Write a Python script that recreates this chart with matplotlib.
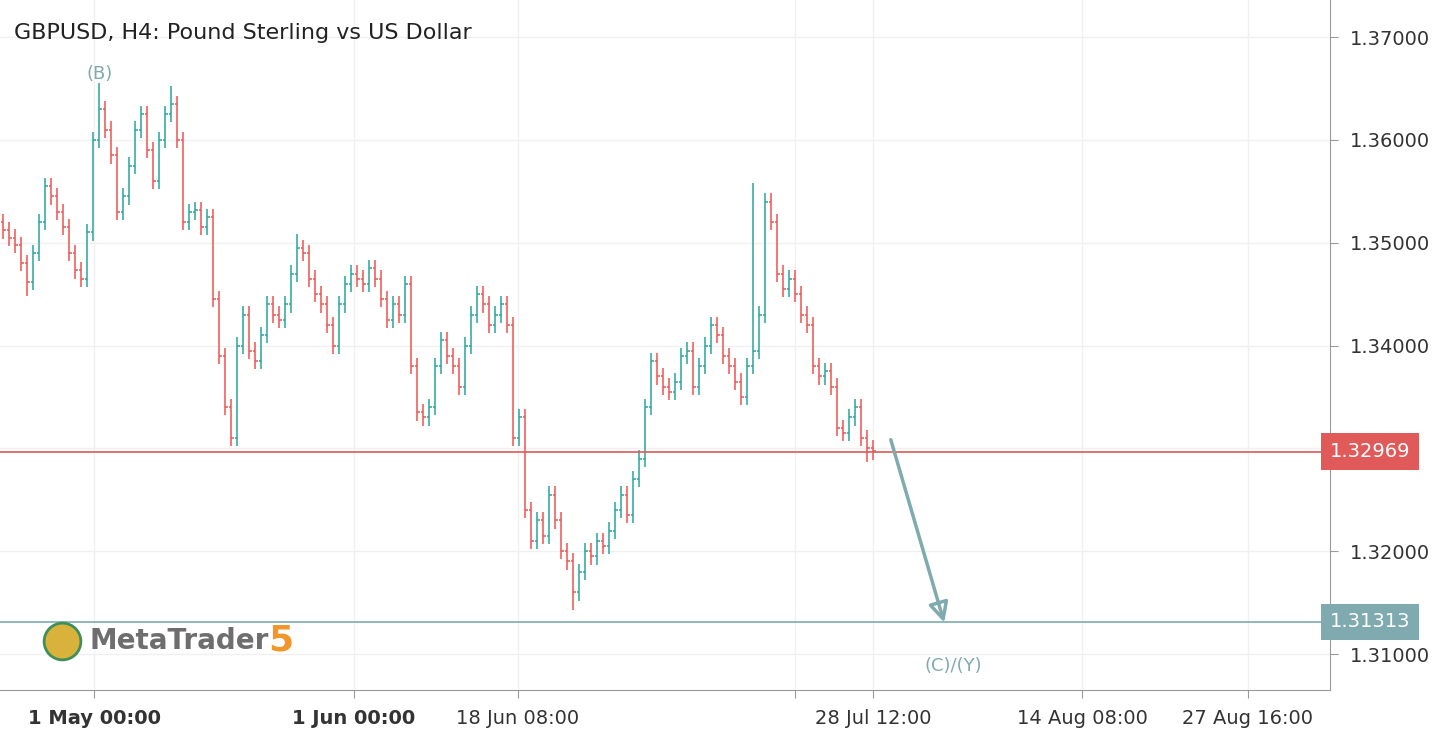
import matplotlib
matplotlib.use('agg')
import matplotlib.pyplot as plt
import numpy as np

# H4 closes (one bar every 6 px of chart width)
closes = [1.3512, 1.3505, 1.3498, 1.3480, 1.3462, 1.3490, 1.3520, 1.3555, 1.3545, 1.3530,
          1.3515, 1.3490, 1.3473, 1.3465, 1.3510, 1.3600, 1.3630, 1.3610, 1.3585, 1.3530,
          1.3545, 1.3575, 1.3610, 1.3625, 1.3590, 1.3560, 1.3600, 1.3625, 1.3635, 1.3600,
          1.3520, 1.3530, 1.3532, 1.3515, 1.3525, 1.3445, 1.3390, 1.3340, 1.3310, 1.3400,
          1.3430, 1.3395, 1.3385, 1.3410, 1.3440, 1.3430, 1.3425, 1.3440, 1.3470, 1.3495,
          1.3490, 1.3465, 1.3450, 1.3440, 1.3420, 1.3400, 1.3440, 1.3460, 1.3470, 1.3465,
          1.3460, 1.3475, 1.3465, 1.3445, 1.3425, 1.3440, 1.3430, 1.3460, 1.3380, 1.3335,
          1.3330, 1.3340, 1.3380, 1.3405, 1.3390, 1.3380, 1.3360, 1.3400, 1.3430, 1.3450,
          1.3440, 1.3420, 1.3430, 1.3440, 1.3420, 1.3310, 1.3330, 1.3240, 1.3210, 1.3230,
          1.3215, 1.3255, 1.3230, 1.3200, 1.3190, 1.3160, 1.3180, 1.3200, 1.3195, 1.3210,
          1.3205, 1.3220, 1.3240, 1.3255, 1.3235, 1.3270, 1.3290, 1.3340, 1.3385, 1.3370,
          1.3360, 1.3355, 1.3365, 1.3390, 1.3395, 1.3360, 1.3380, 1.3400, 1.3420, 1.3410,
          1.3390, 1.3380, 1.3365, 1.3350, 1.3380, 1.3395, 1.3430, 1.3540, 1.3520, 1.3470,
          1.3455, 1.3465, 1.3450, 1.3430, 1.3420, 1.3380, 1.3370, 1.3375, 1.3360, 1.3320,
          1.3315, 1.3330, 1.3340, 1.3310, 1.3300, 1.3297]
first_open = 1.3520
extreme_highs = {16: 1.3655, 28: 1.3652, 49: 1.3508, 125: 1.3558}
extreme_lows = {4: 1.3448, 38: 1.3302, 95: 1.3143, 144: 1.3287}

price_now = 1.32969
target = 1.31313
yticks = [1.31, 1.32, 1.34, 1.35, 1.36, 1.37]
xtick_pos = [94, 354, 518, 795, 873, 1082, 1248]
xtick_lab = ['1 May 00:00', '1 Jun 00:00', '18 Jun 08:00', '', '28 Jul 12:00',
             '14 Aug 08:00', '27 Aug 16:00']

up = '#26a69a'
down = '#ef5350'
teal = '#7fabb0'

fig = plt.figure(figsize=(14.42, 7.4), dpi=100)
ax = fig.add_axes([0, 50 / 740, 1330 / 1442, 690 / 740])

opens = [first_open] + closes[:-1]
for i, (o, c) in enumerate(zip(opens, closes)):
    x = 3 + 6 * i
    hi = extreme_highs.get(i, max(o, c) + 0.0008)
    lo = extreme_lows.get(i, min(o, c) - 0.0008)
    col = up if c >= o else down
    ax.vlines(x, lo, hi, color=col, lw=1.1)
    ax.hlines(o, x - 2.5, x, color=col, lw=1.1)
    ax.hlines(c, x, x + 2.5, color=col, lw=1.1)

ax.axhline(price_now, color='#e05a5a', lw=1.2)
ax.axhline(target, color=teal, lw=1.2)
ax.annotate('', xy=(945, 1.3128), xytext=(890, 1.3311),
            arrowprops=dict(arrowstyle='-|>', color=teal, lw=2.5, mutation_scale=30,
                            fill=False))
ax.text(100, 1.3664, '(B)', color=teal, fontsize=13, ha='center', va='center')
ax.text(953, 1.3088, '(C)/(Y)', color=teal, fontsize=13, ha='center', va='center')
ax.text(14, 1.3704, 'GBPUSD, H4: Pound Sterling vs US Dollar', fontsize=16,
        color='#222222', va='center')
ax.text(90, 1.3113, 'MetaTrader', fontsize=20, fontweight='bold', color='#6e6e6e',
        va='center')
ax.text(268, 1.3113, '5', fontsize=26, fontweight='bold', color='#f0962a', va='center')
ax.scatter([62], [1.3113], s=700, color='#d9b23c', edgecolor='#3f8f5a', lw=2, zorder=3)

ax.set_xlim(0, 1330)
ax.set_ylim(1.3065, 1.3736)
ax.yaxis.tick_right()
ax.set_yticks(yticks)
ax.set_yticklabels(['%.5f' % v for v in yticks], fontsize=14, color='#333333')
ax.set_xticks(xtick_pos)
ax.set_xticklabels(xtick_lab, fontsize=14, color='#333333')
for lab in ax.get_xticklabels()[:2]:
    lab.set_fontweight('bold')
ax.tick_params(length=6, color='#999999', pad=8)
ax.grid(color='#f0f0f0', lw=1)
ax.axhline(1.33, color='#f0f0f0', lw=1, zorder=0)
for s in ['top', 'left']:
    ax.spines[s].set_visible(False)
for s in ['bottom', 'right']:
    ax.spines[s].set_color('#999999')

for val, col in [(price_now, '#e05a5a'), (target, teal)]:
    ax.text(1.0, val, '%.5f' % val, transform=ax.get_yaxis_transform(), fontsize=14,
            color='white', va='center', ha='left',
            bbox=dict(boxstyle='square,pad=0.45', fc=col, ec='none'))

fig.savefig('out.png')
